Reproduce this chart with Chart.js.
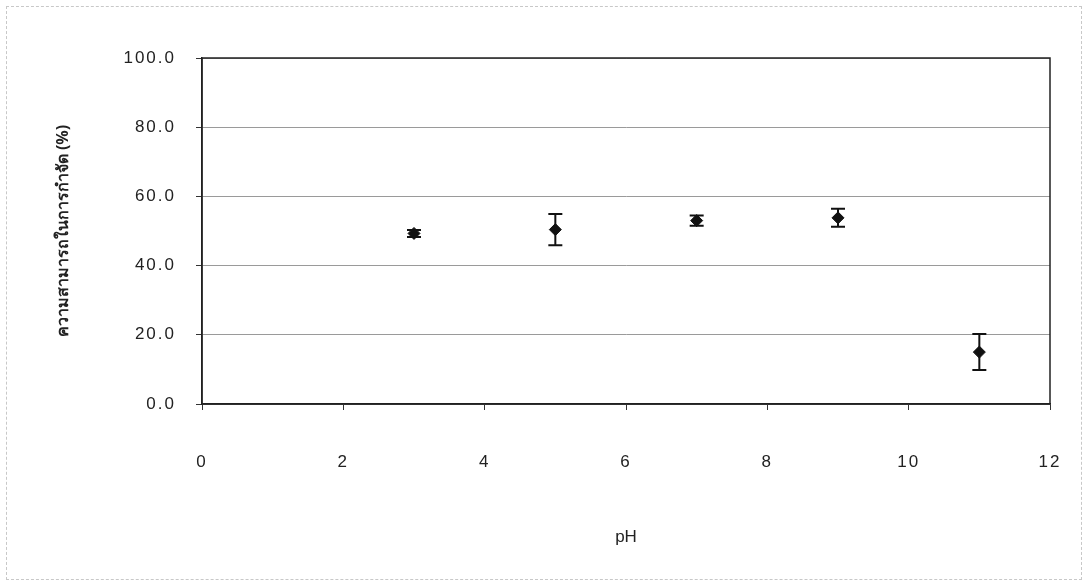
<!DOCTYPE html>
<html>
<head>
<meta charset="utf-8">
<script src="https://cdn.jsdelivr.net/npm/chart.js@4.4.0/dist/chart.umd.min.js"></script>
<style>
  html, body { margin: 0; padding: 0; background: #fff; }
  #wrap { position: relative; width: 1088px; height: 587px; }
  #frame { position: absolute; left: 6px; top: 6px; width: 1076px; height: 574px; border: 1px dashed #c8c8c8; box-sizing: border-box; }
</style>
</head>
<body>
<div id="wrap">
  <div id="frame"></div>
  <canvas id="chart" width="1088" height="587"></canvas>
</div>
<script>
const phValues = [3, 5, 7, 9, 11];
const removal = [49.3, 50.4, 53.0, 53.8, 15.0];
const removalErr = [1.0, 4.5, 1.5, 2.6, 5.2];
const yTicks = [0, 20, 40, 60, 80, 100];
const xTicks = [0, 2, 4, 6, 8, 10, 12];

const FONT = "'Liberation Sans', Arial, sans-serif";

// tick labels in the scan are spaced out, the title is not
function spacedLabels(s){
    if (s._spaced) return;
    s._spaced = true;
    const orig = s.drawLabels;
    s.drawLabels = function(area){
        this.ctx.letterSpacing = "2px";
        orig.call(this, area);
        this.ctx.letterSpacing = "0px";
    };
}

// error bars + box round the plot area
const errorBars = {
    id: "errorBars",
    afterDatasetsDraw(chart){
        let ctx = chart.ctx;
        let xs = chart.scales.x, ys = chart.scales.y;
        ctx.save();
        ctx.strokeStyle = "#111";
        ctx.lineWidth = 2;
        phValues.forEach((p, i)=>{
            let x = xs.getPixelForValue(p);
            let top = ys.getPixelForValue(removal[i] + removalErr[i]);
            let bot = ys.getPixelForValue(removal[i] - removalErr[i]);
            ctx.beginPath();
            ctx.moveTo(x, top); ctx.lineTo(x, bot);
            ctx.moveTo(x - 7, top); ctx.lineTo(x + 7, top);
            ctx.moveTo(x - 7, bot); ctx.lineTo(x + 7, bot);
            ctx.stroke();
        });
        let a = chart.chartArea;
        ctx.lineWidth = 1.5;
        ctx.strokeStyle = "#222";
        ctx.strokeRect(a.left, a.top, a.right - a.left, a.bottom - a.top);
        ctx.restore();
    }
};

new Chart(document.getElementById("chart"), {
    type: "scatter",
    data: {
        datasets: [{
            data: phValues.map((p, i)=>({x: p, y: removal[i]})),
            pointStyle: "rectRot",
            pointRadius: 6,
            pointHoverRadius: 6,
            backgroundColor: "#111",
            borderColor: "#111",
            borderWidth: 1
        }]
    },
    options: {
        responsive: false,
        animation: false,
        layout: { padding: { top: 58, right: 38, left: 0, bottom: 0 } },
        plugins: { legend: { display: false }, tooltip: { enabled: false } },
        scales: {
            x: {
                type: "linear",
                min: 0, max: 12,
                afterBuildTicks: s => { s.ticks = xTicks.map(v => ({value: v})); },
                afterFit: s => { s.height = 183; s.paddingLeft = 0; s.paddingRight = 0; spacedLabels(s); },
                grid: { drawOnChartArea: false, drawTicks: true, tickLength: 6, tickColor: "#333" },
                border: { color: "#222", width: 1.5 },
                ticks: { color: "#222", font: { family: FONT, size: 17 }, padding: 42, maxRotation: 0 },
                title: { display: true, text: "pH", color: "#222", font: { family: FONT, size: 17 }, padding: { top: 0, bottom: 39 } }
            },
            y: {
                min: 0, max: 100,
                afterBuildTicks: s => { s.ticks = yTicks.map(v => ({value: v})); },
                afterFit: s => { s.width = 202; s.paddingTop = 0; s.paddingBottom = 0; spacedLabels(s); },
                grid: { color: "#9a9a9a", lineWidth: 1, tickLength: 6, tickColor: "#333" },
                border: { color: "#222", width: 1.5 },
                ticks: { color: "#222", font: { family: FONT, size: 17 }, padding: 20, callback: v => v.toFixed(1) },
                title: { display: true, text: "ความสามารถในการกำจัด (%)", color: "#222",
                         font: { family: "'Noto Sans', 'DejaVu Sans', sans-serif", size: 16, weight: "bold" },
                         padding: { top: 54, bottom: 0 } }
            }
        }
    },
    plugins: [errorBars]
});
</script>
</body>
</html>
